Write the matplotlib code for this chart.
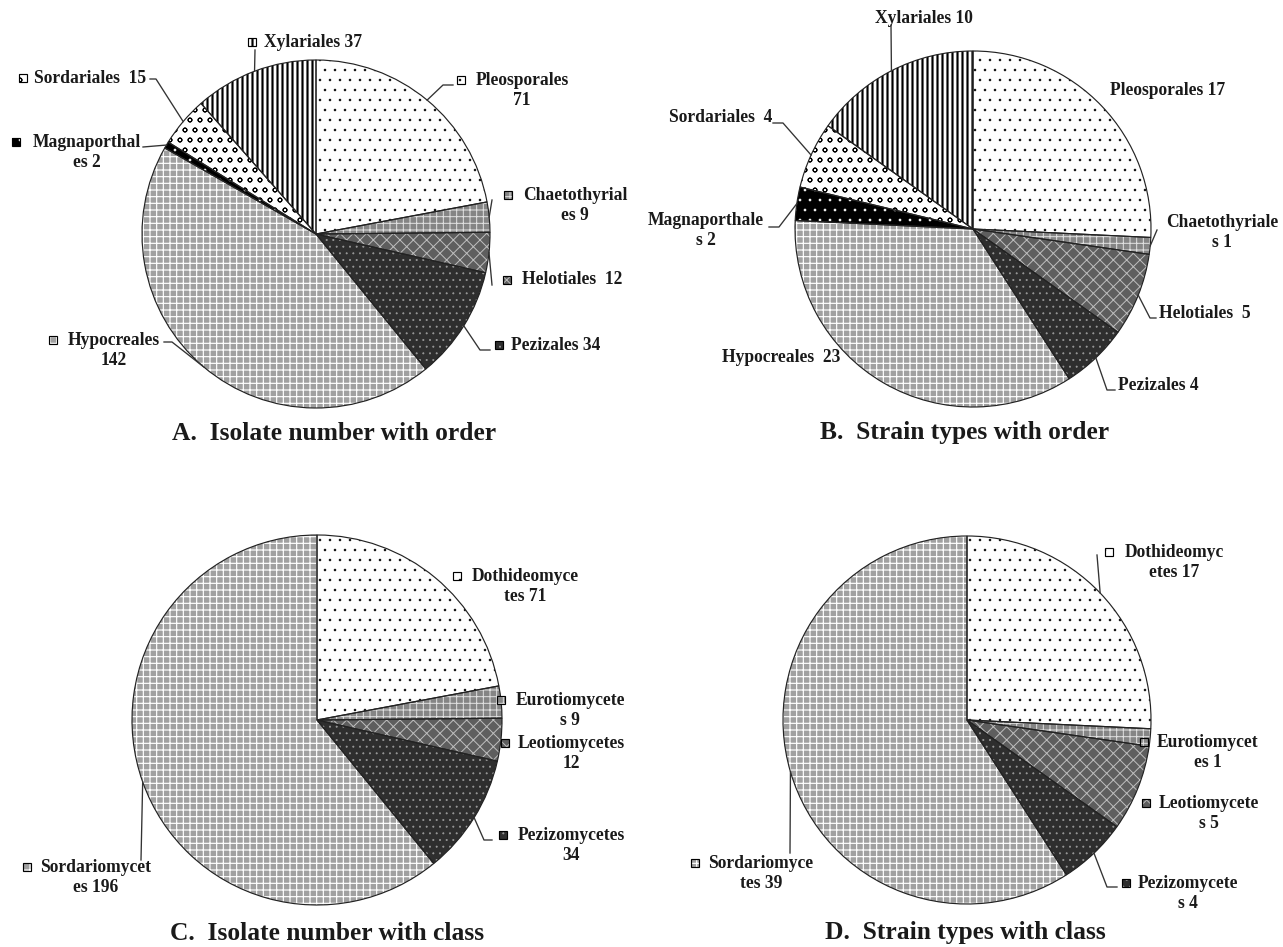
import numpy as np
import matplotlib.pyplot as plt
from matplotlib.patches import Rectangle

plt.rcParams['font.family'] = ['Liberation Serif', 'DejaVu Serif']
plt.rcParams['font.weight'] = 'bold'

W, H, DPI = 1283, 947, 120

# ---- data ----
orders = ["Pleosporales", "Chaetothyriales", "Helotiales", "Pezizales",
          "Hypocreales", "Magnaporthales", "Sordariales", "Xylariales"]
isolates_order = [71, 9, 12, 34, 142, 2, 15, 37]
strains_order = [17, 1, 5, 4, 23, 2, 4, 10]

classes = ["Dothideomycetes", "Eurotiomycetes", "Leotiomycetes",
           "Pezizomycetes", "Sordariomycetes"]
isolates_class = [71, 9, 12, 34, 196]
strains_class = [17, 1, 5, 4, 39]

# label text as printed in the figure
labels_a = ["Pleosporales\n71", "Chaetothyrial\nes 9", "Helotiales  12", "Pezizales 34",
            "Hypocreales\n142", "Magnaporthal\nes 2", "Sordariales  15", "Xylariales 37"]
labels_b = ["Pleosporales 17", "Chaetothyriale\ns 1", "Helotiales  5", "Pezizales 4",
            "Hypocreales  23", "Magnaporthale\ns 2", "Sordariales  4", "Xylariales 10"]
labels_c = ["Dothideomyce\ntes 71", "Eurotiomycete\ns 9", "Leotiomycetes\n12",
            "Pezizomycetes\n34", "Sordariomycet\nes 196"]
labels_d = ["Dothideomyc\netes 17", "Eurotiomycet\nes 1", "Leotiomycete\ns 5",
            "Pezizomycete\ns 4", "Sordariomyce\ntes 39"]

# fill, hatch, hatch colour, hatch linewidth
styles = {
    "Pleosporales": ("white", "..", "black", 0.3),
    "Chaetothyriales": ("#858585", "+++", "#e0e0e0", 0.6),
    "Helotiales": ("#5e5e5e", "xxx", "#bdbdbd", 0.6),
    "Pezizales": ("#2e2e2e", "...", "#9a9a9a", 0.4),
    "Hypocreales": ("#a0a0a0", "+++", "white", 0.7),
    "Magnaporthales": ("black", "..", "white", 0.4),
    "Sordariales": ("white", "oo", "black", 0.6),
    "Xylariales": ("white", "||||", "black", 1.3),
}
class_to_order = {"Dothideomycetes": "Pleosporales", "Eurotiomycetes": "Chaetothyriales",
                  "Leotiomycetes": "Helotiales", "Pezizomycetes": "Pezizales",
                  "Sordariomycetes": "Hypocreales"}

# ---- layout (pixel coords, y down) ----
# per label: text centre x, first line y, key square x (or None), leader points
panels = [
    dict(names=orders, values=isolates_order, labels=labels_a,
         center=(316, 234), r=174, title="A.  Isolate number with order", title_xy=(334, 433),
         spots=[(522, 80, 461, [(443, 85), (453, 85)]),
                (575, 195, 508, [(492, 200)]),
                (572, 280, 507, [(492, 285)]),
                (556, 345, 499, [(480, 350), (490, 350)]),
                (114, 340, 53, [(172, 342), (164, 342)]),
                (87, 142, 16, [(143, 147)]),
                (90, 78, 23, [(156, 79), (150, 79)]),
                (313, 42, 252, [(255, 50)])]),
    dict(names=orders, values=strains_order, labels=labels_b,
         center=(973, 229), r=178, title="B.  Strain types with order", title_xy=(965, 433),
         spots=[(1168, 90, None, None),
                (1222, 222, None, [(1157, 230)]),
                (1205, 313, None, [(1150, 318), (1156, 318)]),
                (1158, 385, None, [(1107, 390), (1115, 390)]),
                (781, 357, None, None),
                (706, 220, None, [(779, 227), (769, 227)]),
                (721, 117, None, [(783, 123), (773, 123)]),
                (924, 18, None, [(891, 25)])]),
    dict(names=classes, values=isolates_class, labels=labels_c,
         center=(317, 720), r=185, title="C.  Isolate number with class", title_xy=(327, 933),
         spots=[(525, 576, 457, None),
                (570, 700, 501, None),
                (571, 743, 505, None),
                (571, 835, 503, [(484, 840), (492, 840)]),
                (96, 867, 27, [(141, 860)])]),
    dict(names=classes, values=strains_class, labels=labels_d,
         center=(967, 720), r=184, title="D.  Strain types with class", title_xy=(965, 933),
         spots=[(1174, 552, 1109, [(1097, 555)]),
                (1208, 742, 1144, None),
                (1209, 803, 1146, None),
                (1188, 883, 1126, [(1107, 887), (1117, 887)]),
                (761, 863, 695, [(790, 853)])]),
]

LABEL_FS = 10.5
TITLE_FS = 15.3
LINE_GAP = 21
KEY = 8


def style_of(name):
    return styles[class_to_order.get(name, name)]


def apply_fill(patch, name):
    fill, hatch, hcol, hlw = style_of(name)
    patch.set_facecolor(fill)
    patch.set_hatch(hatch)
    patch.set_edgecolor(hcol)
    patch.set_linewidth(0)
    if hasattr(patch, "set_hatch_linewidth"):
        patch.set_hatch_linewidth(hlw)


fig = plt.figure(figsize=(W / DPI, H / DPI), dpi=DPI)
ax = fig.add_axes([0, 0, 1, 1])

for p in panels:
    cx, cy = p["center"]
    r = p["r"]
    # y axis is inverted below, so counterclock here draws clockwise on screen
    fills, _ = ax.pie(p["values"], center=(cx, cy), radius=r, startangle=-90,
                      counterclock=True)
    for w, name in zip(fills, p["names"]):
        apply_fill(w, name)
    ax.pie(p["values"], center=(cx, cy), radius=r, startangle=-90, counterclock=True,
           colors=["none"] * len(p["values"]),
           wedgeprops=dict(edgecolor="#222222", linewidth=0.7))

    total = sum(p["values"])
    cum = np.cumsum([0] + list(p["values"]))
    for i, (name, text, spot) in enumerate(zip(p["names"], p["labels"], p["spots"])):
        tx, ty, kx, leader = spot
        nlines = text.count("\n") + 1
        ax.text(tx, ty + (nlines - 1) * LINE_GAP / 2, text, ha="center", va="center",
                multialignment="center", fontsize=LABEL_FS, fontweight="bold", color="#1a1a1a")
        if kx is not None:
            sq = Rectangle((kx - KEY / 2, ty - KEY / 2), KEY, KEY)
            ax.add_patch(sq)
            apply_fill(sq, name)
            ax.add_patch(Rectangle((kx - KEY / 2, ty - KEY / 2), KEY, KEY, facecolor="none",
                                   edgecolor="black", linewidth=0.7))
        if leader:
            mid = (cum[i] + cum[i + 1]) / 2 / total * 2 * np.pi
            sx = cx + r * np.sin(mid)
            sy = cy - r * np.cos(mid)
            xs = [sx] + [q[0] for q in leader]
            ys = [sy] + [q[1] for q in leader]
            ax.plot(xs, ys, color="#333333", linewidth=0.8)

    ax.text(p["title_xy"][0], p["title_xy"][1], p["title"], ha="center", va="center",
            fontsize=TITLE_FS, fontweight="bold", color="#1a1a1a")

ax.set_xlim(0, W)
ax.set_ylim(H, 0)
ax.set_aspect("equal")
ax.axis("off")

fig.savefig("out.png", dpi=DPI, facecolor="white")
